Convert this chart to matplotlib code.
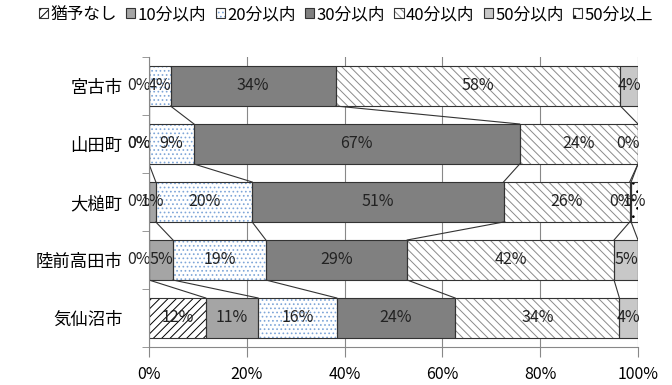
import matplotlib
matplotlib.use('Agg')
import matplotlib.pyplot as plt
from matplotlib.patches import Patch
import numpy as np

plt.rcParams['font.family'] = ['Noto Sans CJK JP', 'DejaVu Sans']
plt.rcParams['hatch.linewidth'] = 0.7

# 市町村ごとの割合 (%), 空欄は nan
cities = ['宮古市', '山田町', '大槌町', '陸前高田市', '気仙沼市']
series_names = ['猶予なし', '10分以内', '20分以内', '30分以内', '40分以内', '50分以内', '50分以上']

nan = np.nan
yuyo_nashi = [0, 0, 0, 0, 11.6]
min10 = [nan, 0, 1.4, 4.9, 10.7]
min20 = [4.4, 9.2, 19.7, 19.0, 16.1]
min30 = [33.8, 66.6, 51.4, 28.9, 24.2]
min40 = [58.2, 24.2, 25.8, 42.3, 33.6]
min50 = [3.6, 0, 0.3, 4.9, 3.8]
over50 = [nan, nan, 1.4, nan, nan]
xticks = [0, 20, 40, 60, 80, 100]

series = [yuyo_nashi, min10, min20, min30, min40, min50, over50]

# (塗り色, ハッチ, ハッチ色)
styles = [
    ('white', '////', '#000000'),
    ('#a5a5a5', '', '#a5a5a5'),
    ('white', '....', '#7fa6d8'),
    ('#808080', '', '#808080'),
    ('white', '\\\\\\\\', '#8a8a8a'),
    ('#c8c8c8', '', '#c8c8c8'),
    ('white', '..', '#000000'),
]
edge = '#333333'

fig = plt.figure(figsize=(6.72, 3.85), dpi=100)
ax = fig.add_axes([149 / 672, 1 - 347 / 385, 489 / 672, 290 / 385])

y = np.arange(len(cities))
h = 0.69
left = np.zeros(len(cities))
bounds = []
for vals, (fc, hatch, hc) in zip(series, styles):
    v = np.array(vals, dtype=float)
    w = np.nan_to_num(v)
    ax.barh(y, w, left=left, height=h, color=fc, hatch=hatch, edgecolor=hc, linewidth=0, zorder=2)
    ax.barh(y, w, left=left, height=h, fill=False, edgecolor=edge, linewidth=0.8, zorder=3)
    for i in range(len(cities)):
        if not np.isfinite(v[i]):
            continue
        label = f'{v[i]:.0f}%'
        if label == '0%':
            # 幅ゼロの区間はラベルを区間の左側に寄せる
            ax.text(left[i] + w[i] + 0.3, y[i], label, ha='right', va='center',
                    fontsize=11.5, color='#222222', zorder=5)
        else:
            ax.text(left[i] + w[i] / 2, y[i], label, ha='center', va='center',
                    fontsize=11.5, color='#222222', zorder=5)
    left = left + w
    bounds.append(left.copy())

# 系列線
for b in bounds[:-1]:
    for i in range(len(cities) - 1):
        ax.plot([b[i], b[i + 1]], [y[i] + h / 2, y[i + 1] - h / 2],
                color=edge, linewidth=0.8, zorder=4)

ax.set_xlim(0, 100)
ax.set_ylim(len(cities) - 0.5, -0.5)
ax.set_xticks(xticks)
ax.set_xticklabels([f'{t}%' for t in xticks], fontsize=11.5)
ax.set_yticks(y)
ax.set_yticklabels(cities, fontsize=12.5)
ax.set_yticks(np.arange(-0.5, len(cities)), minor=True)
ax.tick_params(axis='y', which='major', length=0, pad=19)
ax.tick_params(axis='y', which='minor', length=5, color='#888888')
ax.tick_params(axis='x', length=7, color='#888888', pad=7)
ax.xaxis.grid(True, color='#888888', linewidth=0.8)
ax.set_axisbelow(True)
for s in ['top', 'right']:
    ax.spines[s].set_visible(False)
for s in ['left', 'bottom']:
    ax.spines[s].set_color('#888888')
    ax.spines[s].set_linewidth(0.8)
    ax.spines[s].set_zorder(6)

handles = []
for fc, hatch, hc in styles:
    handles.append((Patch(facecolor=fc, hatch=hatch, edgecolor=hc, linewidth=0),
                    Patch(fill=False, edgecolor=edge, linewidth=0.8)))
fig.legend(handles, series_names, loc='center', bbox_to_anchor=(0.515, 0.962), ncol=7,
           frameon=False, fontsize=12, handlelength=0.55, handleheight=0.55,
           handletextpad=0.15, columnspacing=0.55)

fig.savefig('out.png', dpi=100)
